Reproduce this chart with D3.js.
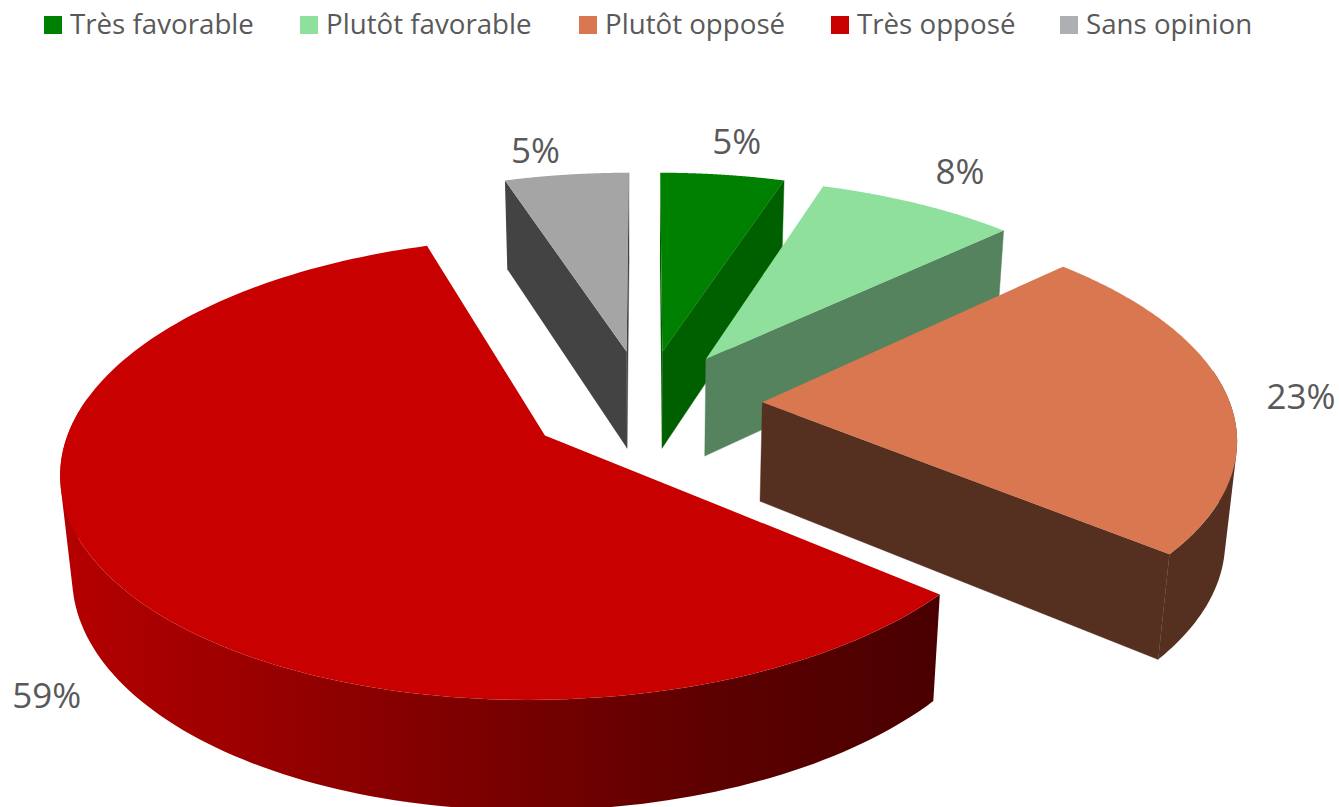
<!DOCTYPE html>
<html><head><meta charset="utf-8">
<script src="https://cdn.jsdelivr.net/npm/d3@7"></script>
<style>html,body{margin:0;padding:0;background:#fff;overflow:hidden}svg{display:block}text{font-family:"Open Sans",sans-serif;fill:#595959}</style>
</head><body><div id="c"></div>
<script>
const categories = ["Très favorable","Plutôt favorable","Plutôt opposé","Très opposé","Sans opinion"];
const values = [5,8,23,59,5];
const topColors = ["#008000","#8EE09C","#D97850","#C80000","#A5A5A5"];
const wallColors = ["#006000","#54835E","#552F20","url(#redWall)","#434343"];
const legendColors = ["#008000","#8EE09C","#D97850","#C80000","#AEAFB3"];
const labelText = ["5%","8%","23%","59%","5%"];

const W=1339,H=807;
// projection parameters of the plane of the pie
const cx=644.5, cy=404, R=468, explode=118, k=.465, v=.0003, depth=101, w=.02;
const labelNudge=[[14,-21],[42,-20],[74,14],[-60,134],[-31,-12]];

const svg=d3.select("#c").append("svg").attr("width",W).attr("height",H);
const defs=svg.append("defs");
const g=defs.append("linearGradient").attr("id","redWall").attr("gradientUnits","userSpaceOnUse")
  .attr("x1",65).attr("x2",936).attr("y1",0).attr("y2",0);
[[0,"#B40000"],[.4,"#840000"],[.75,"#5C0000"],[1,"#4A0000"]].forEach(s=>g.append("stop").attr("offset",s[0]).attr("stop-color",s[1]));

const arcs=d3.pie().sort(null).startAngle(0).endAngle(2*Math.PI)(values);
const project=(d,a,r,low)=>{
  const mid=(d.startAngle+d.endAngle)/2;
  const X=explode*Math.sin(mid)+r*Math.sin(a), Y=explode*Math.cos(mid)+r*Math.cos(a);
  const D=1+v*Y+(low?w:0);
  return [cx+X/D, cy-k*Y/D+(low?depth/D:0)];
};
const line=d3.line();
const N=160;
const rim=(d,low)=>d3.range(0,N+1).map(i=>project(d,d.startAngle+(d.endAngle-d.startAngle)*i/N,R,low));

const pie=svg.append("g");
[4,0,1,2,3].forEach(i=>{
  const d=arcs[i], s=pie.append("g");
  const ap=project(d,0,0,false), apL=project(d,0,0,true);
  const top=rim(d,false), bot=rim(d,true);
  // cut faces that look towards the viewer
  if(top[0][0]<ap[0]) s.append("path").attr("d",line([ap,top[0],bot[0],apL])+"Z").attr("fill",wallColors[i]);
  if(top[N][0]>ap[0]) s.append("path").attr("d",line([ap,top[N],bot[N],apL])+"Z").attr("fill",wallColors[i])
    .attr("stroke",wallColors[i]).attr("stroke-width",.4);
  // outer wall: one path made of a strip per rim step, front part only
  let strips="";
  d3.range(0,N).forEach(j=>{
    const a=d.startAngle+(d.endAngle-d.startAngle)*j/N;
    if(Math.cos(a)>.15) return;
    const q=[top[j],top[j+1],bot[j+1],bot[j]];
    strips+=line(d3.polygonArea(q)<0?q.slice().reverse():q)+"Z";
  });
  if(strips) s.append("path").attr("d",strips).attr("fill",wallColors[i]).attr("fill-rule","nonzero");
  // top face
  s.append("path").attr("d",line([ap].concat(top))+"Z").attr("fill",topColors[i]);
});

// data labels
arcs.forEach((d,i)=>{
  const m=(d.startAngle+d.endAngle)/2,p=project(d,m,R,false);
  svg.append("text").attr("x",p[0]+labelNudge[i][0]).attr("y",p[1]+labelNudge[i][1])
   .attr("text-anchor","middle").attr("font-size",35).text(labelText[i]);
});

// legend
const legendX=d3.scaleOrdinal().domain(categories).range([44,300,579,831,1060]);
categories.forEach((c,i)=>{
  svg.append("rect").attr("x",legendX(c)).attr("y",16).attr("width",18).attr("height",18).attr("fill",legendColors[i]);
  svg.append("text").attr("x",legendX(c)+26).attr("y",34).attr("font-size",27.7).text(c);
});
</script></body></html>
